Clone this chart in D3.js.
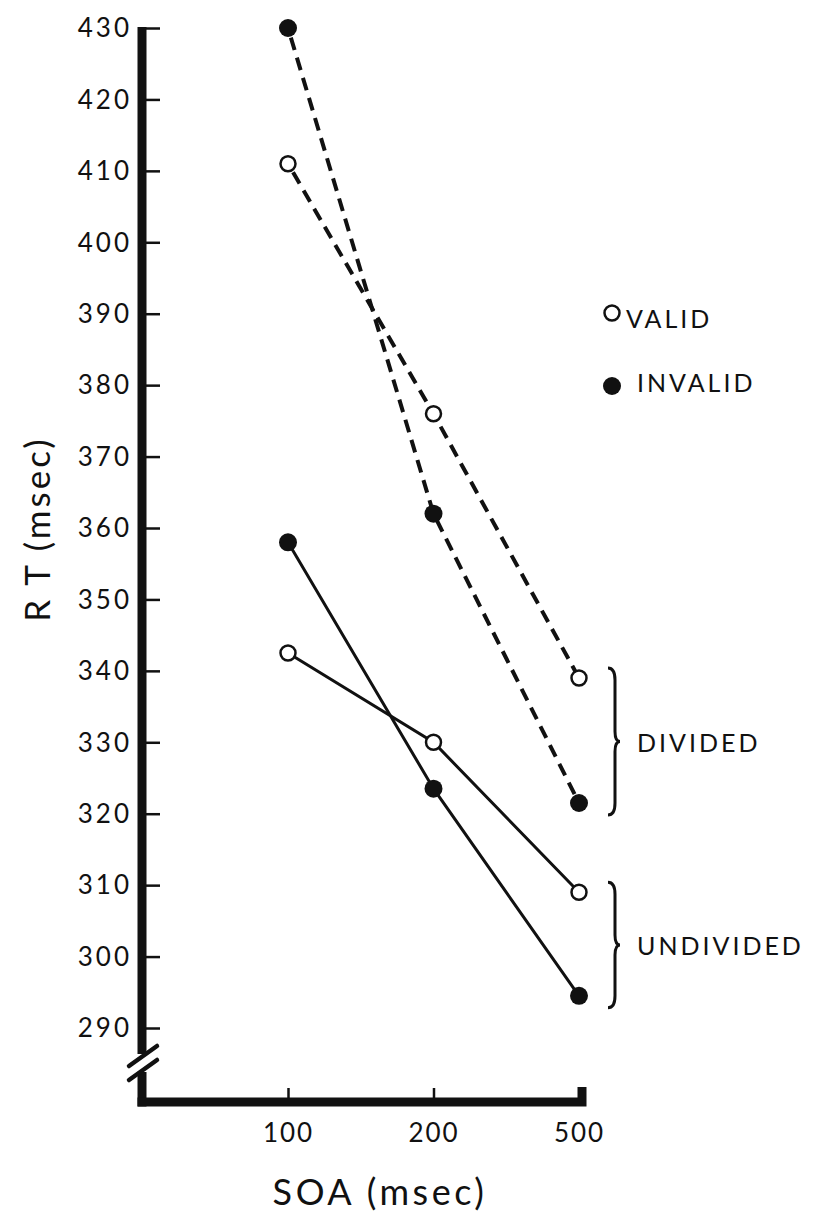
<!DOCTYPE html>
<html>
<head>
<meta charset="utf-8">
<script src="https://cdn.jsdelivr.net/npm/d3@7"></script>
<style>
  html, body { margin: 0; padding: 0; background: #fff; }
  svg { display: block; }
  text { font-family: Lato, "Open Sans", sans-serif; fill: #111; }
</style>
</head>
<body>
<svg id="chart" width="818" height="1225"></svg>
<script>
// Stimulus onset asynchrony conditions (msec)
const soaLevels = ["100", "200", "500"];

// Mean reaction times (msec)
const dividedValid     = [411, 376, 339];
const dividedInvalid   = [430, 362, 321.5];
const undividedValid   = [342.5, 330, 309];
const undividedInvalid = [358, 323.5, 294.5];

// Axis ticks
const rtTicks = [430, 420, 410, 400, 390, 380, 370, 360, 350, 340, 330, 320, 310, 300, 290];

// Legend and group labels
const legendItems = [
  { label: "VALID", filled: false },
  { label: "INVALID", filled: true }
];
const groupLabels = ["DIVIDED", "UNDIVIDED"];

const series = [
  { values: dividedValid,     filled: false, dashed: true },
  { values: dividedInvalid,   filled: true,  dashed: true },
  { values: undividedValid,   filled: false, dashed: false },
  { values: undividedInvalid, filled: true,  dashed: false }
];

const svg = d3.select("#chart");
const ink = "#111";

// Layout
const axisX = 142;      // vertical axis position
const baseY = 1102;     // horizontal axis position

const x = d3.scalePoint().domain(soaLevels).range([288, 579]).padding(0);
const y = d3.scaleLinear().domain([290, 430]).range([1028, 28]);

// ---- Y axis: ticks point inward, labels on the left
const yAxis = d3.axisLeft(y)
  .tickValues(rtTicks)
  .tickSizeInner(-18)
  .tickSizeOuter(0)
  .tickPadding(10)
  .tickFormat(d3.format("d"));

const gy = svg.append("g").attr("transform", `translate(${axisX},0)`).call(yAxis);
gy.select(".domain").remove();
gy.selectAll(".tick line").attr("stroke", ink).attr("stroke-width", 2.5);
gy.selectAll(".tick text")
  .attr("fill", ink)
  .style("font-size", "26px")
  .style("letter-spacing", "3px")
  .attr("dy", "0.34em");

// ---- X axis: short upward ticks, labels below
const xAxis = d3.axisBottom(x).tickSizeInner(-14).tickSizeOuter(0).tickPadding(0);
const gx = svg.append("g").attr("transform", `translate(0,${baseY})`).call(xAxis);
gx.select(".domain").remove();
gx.selectAll(".tick line").attr("stroke", ink).attr("stroke-width", 2.5);
gx.selectAll(".tick text")
  .attr("fill", ink)
  .attr("y", 40).attr("dy", 0)
  .style("font-size", "26px")
  .style("letter-spacing", "2px");

// ---- Heavy axis lines with a scale break near the bottom of the RT axis
const axisW = 9;
const breakTop = 1054, breakBot = 1072;
svg.append("line")
  .attr("x1", axisX).attr("x2", axisX)
  .attr("y1", y(430) - 1).attr("y2", breakTop)
  .attr("stroke", ink).attr("stroke-width", axisW);
svg.append("line")
  .attr("x1", axisX).attr("x2", axisX)
  .attr("y1", breakBot).attr("y2", baseY + axisW / 2)
  .attr("stroke", ink).attr("stroke-width", axisW);
// the two slashes of the break
[breakTop + 3, breakBot - 1].forEach(cy => {
  svg.append("line")
    .attr("x1", axisX - 13).attr("y1", cy + 9)
    .attr("x2", axisX + 15).attr("y2", cy - 11)
    .attr("stroke", ink).attr("stroke-width", 4.5)
    .attr("stroke-linecap", "round");
});
// horizontal axis with the raised corner at its right end
svg.append("path")
  .attr("d", `M${axisX - axisW / 2},${baseY} H${x("500") + 3} V${baseY - 15}`)
  .attr("fill", "none")
  .attr("stroke", ink).attr("stroke-width", axisW)
  .attr("stroke-linejoin", "miter");

// ---- Series lines
const line = d3.line()
  .x((d, i) => x(soaLevels[i]))
  .y(d => y(d));

series.forEach(s => {
  svg.append("path")
    .datum(s.values)
    .attr("d", line)
    .attr("fill", "none")
    .attr("stroke", ink)
    .attr("stroke-width", s.dashed ? 4 : 3)
    .attr("stroke-dasharray", s.dashed ? "13,8" : null)
    .attr("stroke-dashoffset", s.dashed ? -10 : null);
});

// ---- Markers
series.forEach(s => {
  svg.append("g").selectAll("circle")
    .data(s.values)
    .join("circle")
    .attr("cx", (d, i) => x(soaLevels[i]))
    .attr("cy", d => y(d))
    .attr("r", s.filled ? 9 : 7.5)
    .attr("fill", s.filled ? ink : "#fff")
    .attr("stroke", ink)
    .attr("stroke-width", s.filled ? 0 : 2.5);
});

// ---- Legend
const legend = svg.append("g").attr("transform", "translate(612,313)");
legendItems.forEach((it, i) => {
  const g = legend.append("g").attr("transform", `translate(0,${i * 73})`);
  g.append("circle")
    .attr("r", it.filled ? 9 : 7.5)
    .attr("fill", it.filled ? ink : "#fff")
    .attr("stroke", ink)
    .attr("stroke-width", it.filled ? 0 : 2.5);
  g.append("text")
    .attr("x", it.filled ? 25 : 14)
    .attr("y", it.filled ? 6 : 15)
    .style("font-size", "25px")
    .style("letter-spacing", "3px")
    .text(it.label);
});

// ---- Group braces and labels
function bracePath(x0, y0, y1) {
  const ym = (y0 + y1) / 2;
  return `M${x0 - 5},${y0} Q${x0 + 2},${y0} ${x0 + 2},${y0 + 12}` +
         ` L${x0 + 2},${ym - 10} Q${x0 + 2},${ym} ${x0 + 7},${ym}` +
         ` Q${x0 + 2},${ym} ${x0 + 2},${ym + 10}` +
         ` L${x0 + 2},${y1 - 12} Q${x0 + 2},${y1} ${x0 - 5},${y1}`;
}
const groups = [
  { label: groupLabels[0], top: 339, bottom: 321.5 },
  { label: groupLabels[1], top: 309, bottom: 294.5 }
];
groups.forEach(gp => {
  const y0 = y(gp.top) - 10, y1 = y(gp.bottom) + 12;
  svg.append("path")
    .attr("d", bracePath(613, y0, y1))
    .attr("fill", "none")
    .attr("stroke", ink)
    .attr("stroke-width", 3);
  svg.append("text")
    .attr("x", 637)
    .attr("y", (y0 + y1) / 2 + 10)
    .style("font-size", "25px")
    .style("letter-spacing", "3px")
    .text(gp.label);
});

// ---- Axis titles
svg.append("text")
  .attr("x", 380).attr("y", 1205)
  .attr("text-anchor", "middle")
  .style("font-size", "36px")
  .style("letter-spacing", "3.5px")
  .text("SOA (msec)");

svg.append("text")
  .attr("transform", "translate(50,529) rotate(-90)")
  .attr("text-anchor", "middle")
  .style("font-size", "35px")
  .style("letter-spacing", "3px")
  .text("R T (msec)");
</script>
</body>
</html>
